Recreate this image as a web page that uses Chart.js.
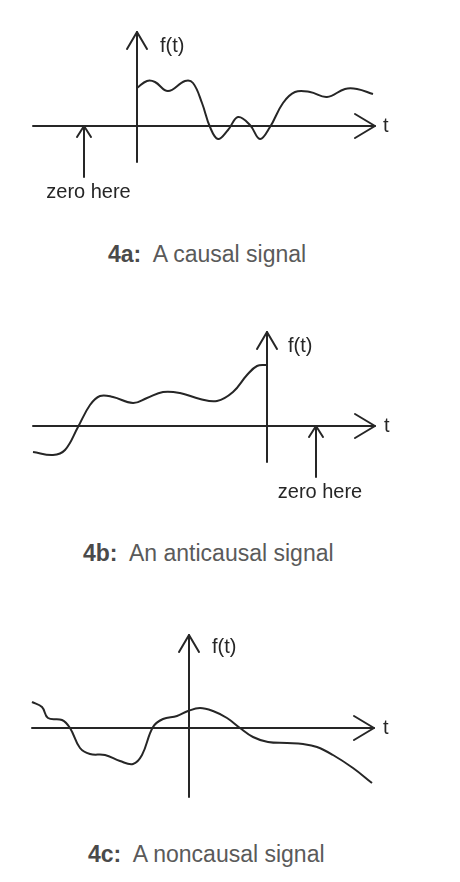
<!DOCTYPE html>
<html>
<head>
<meta charset="utf-8">
<script src="https://cdn.jsdelivr.net/npm/chart.js@4/dist/chart.umd.min.js"></script>
<style>
  html, body { margin: 0; padding: 0; background: #fff; }
  #page { position: relative; width: 460px; height: 882px; overflow: hidden; }
  canvas { position: absolute; }
  .cap {
    position: absolute;
    font-family: "Liberation Sans", Arial, sans-serif;
    font-size: 23px;
    line-height: 23px;
    color: #5a5a5a;
    white-space: pre;
  }
  .cap b { color: #4a4a4a; }
</style>
</head>
<body>
<div id="page">
  <canvas id="sigA" width="440" height="200" style="left:17px;top:16px"></canvas>
  <div class="cap" style="left:108px;top:243px"><b>4a:</b>  A causal signal</div>

  <canvas id="sigB" width="430" height="200" style="left:27px;top:316px"></canvas>
  <div class="cap" style="left:83px;top:542px"><b>4b:</b>  An anticausal signal</div>

  <canvas id="sigC" width="440" height="200" style="left:19px;top:618px"></canvas>
  <div class="cap" style="left:88px;top:843px"><b>4c:</b>  A noncausal signal</div>
</div>

<script>
// ── signal samples (t, f(t)) ──
const causalT = [0, 1.0, 1.8, 3.1, 4.8, 5.6, 6.5, 7.3, 8.1, 9.1, 10.1, 11.3, 12.3, 13.3, 14.6, 15.8, 17.3, 19.0, 20.8, 22.0, 23.6];
const causalF = [3.8, 4.5, 4.4, 3.5, 4.5, 4.3, 2.3, -0.1, -1.3, -0.4, 0.9, 0.1, -1.3, -0.1, 2.3, 3.4, 3.4, 2.9, 3.7, 3.7, 3.2];

const antiT = [-23.4, -21.4, -20.2, -18.9, -17.7, -16.7, -15.4, -13.4, -12.0, -10.4, -8.7, -6.7, -5.0, -3.4, -2.0, -1.0, 0];
const antiF = [-2.6, -2.9, -2.4, -0.1, 2.1, 3.0, 2.9, 2.3, 2.8, 3.4, 3.3, 2.7, 2.5, 3.4, 5.1, 6.0, 6.1];

const nonT = [-15.7, -14.7, -14.1, -12.7, -11.9, -10.9, -9.9, -8.4, -6.9, -5.6, -4.7, -3.6, -2.6, -1.2, -0.1, 1.1, 2.4, 3.8, 5.1, 6.4, 7.9, 9.8, 11.4, 12.8, 14.4, 16.4, 18.3];
const nonF = [2.6, 2.1, 1.0, 0.8, 0, -2.0, -2.6, -2.7, -3.3, -3.6, -2.7, 0.1, 0.9, 1.2, 1.7, 2.0, 1.7, 1.0, 0, -0.9, -1.4, -1.5, -1.6, -1.9, -2.7, -4.0, -5.5];

// axis extents [from, to] in t and f units
const causalAxisT = [-10.4, 23.8], causalAxisF = [-3.6, 9.4];
const antiAxisT = [-23.4, 10.8], antiAxisF = [-3.6, 9.4];
const nonAxisT = [-15.7, 18.5], nonAxisF = [-6.9, 9.3];

// "zero here" markers: [t, lower end of arrow]
const causalZero = [-5.3, -5.1];
const antiZero = [4.9, -5.1];

const INK = '#262626';
const LABEL_FONT = '20px "Liberation Sans", Arial, sans-serif';

// draws the sketch axes with open arrowheads, plus labels
const sketchAxes = {
  id: 'sketch',
  beforeDatasetsDraw(chart, args, o) {
    const ctx = chart.ctx;
    const px = v => chart.scales.x.getPixelForValue(v);
    const py = v => chart.scales.y.getPixelForValue(v);
    const x0 = px(0), y0 = py(0);
    const seg = (pts) => {
      ctx.beginPath();
      ctx.moveTo(pts[0][0], pts[0][1]);
      for (let i = 1; i < pts.length; i++) ctx.lineTo(pts[i][0], pts[i][1]);
      ctx.stroke();
    };
    ctx.save();
    ctx.strokeStyle = INK;
    ctx.lineWidth = 2;
    ctx.lineCap = 'round';
    ctx.lineJoin = 'round';

    // t axis
    const tx = px(o.axisT[1]);
    seg([[px(o.axisT[0]), y0], [tx, y0]]);
    seg([[tx - 20, y0 - 12], [tx, y0], [tx - 20, y0 + 12]]);

    // f axis
    const fy = py(o.axisF[1]);
    seg([[x0, py(o.axisF[0])], [x0, fy]]);
    seg([[x0 - 10, fy + 17], [x0, fy], [x0 + 10, fy + 17]]);

    // zero-here arrow
    if (o.zero) {
      const zx = px(o.zero[0]);
      seg([[zx, py(o.zero[1])], [zx, y0]]);
      seg([[zx - 7, y0 + 11], [zx, y0], [zx + 7, y0 + 11]]);
    }

    ctx.fillStyle = INK;
    ctx.font = LABEL_FONT;
    ctx.textBaseline = 'alphabetic';
    (o.labels || []).forEach(l => {
      ctx.textAlign = l.align || 'left';
      ctx.fillText(l.text, px(l.t), py(l.f));
    });
    ctx.restore();
  }
};

function drawSignal(id, ts, fs, tRange, sketch) {
  const pts = ts.map((t, i) => ({ x: t, y: fs[i] }));
  return new Chart(document.getElementById(id), {
    type: 'line',
    data: {
      datasets: [{
        data: pts,
        borderColor: INK,
        borderWidth: 2,
        pointRadius: 0,
        fill: false,
        tension: 0.4
      }]
    },
    options: {
      responsive: false,
      animation: false,
      events: [],
      layout: { padding: 0 },
      plugins: { legend: { display: false }, tooltip: { enabled: false }, sketch: sketch },
      scales: {
        x: { type: 'linear', display: false, min: tRange[0], max: tRange[1] },
        y: { type: 'linear', display: false, min: -9, max: 11 }
      }
    },
    plugins: [sketchAxes]
  });
}

drawSignal('sigA', causalT, causalF, [-12, 32], {
  axisT: causalAxisT, axisF: causalAxisF, zero: causalZero,
  labels: [
    { text: 'f(t)', t: 2.3, f: 7.4 },
    { text: 't', t: 24.6, f: -0.6 },
    { text: 'zero here', t: -4.85, f: -7.2, align: 'center' }
  ]
});

drawSignal('sigB', antiT, antiF, [-24, 19], {
  axisT: antiAxisT, axisF: antiAxisF, zero: antiZero,
  labels: [
    { text: 'f(t)', t: 2.1, f: 7.4 },
    { text: 't', t: 11.7, f: -0.6 },
    { text: 'zero here', t: 5.3, f: -7.2, align: 'center' }
  ]
});

drawSignal('sigC', nonT, nonF, [-17, 27], {
  axisT: nonAxisT, axisF: nonAxisF,
  labels: [
    { text: 'f(t)', t: 2.3, f: 7.5 },
    { text: 't', t: 19.4, f: -0.6 }
  ]
});
</script>
</body>
</html>
